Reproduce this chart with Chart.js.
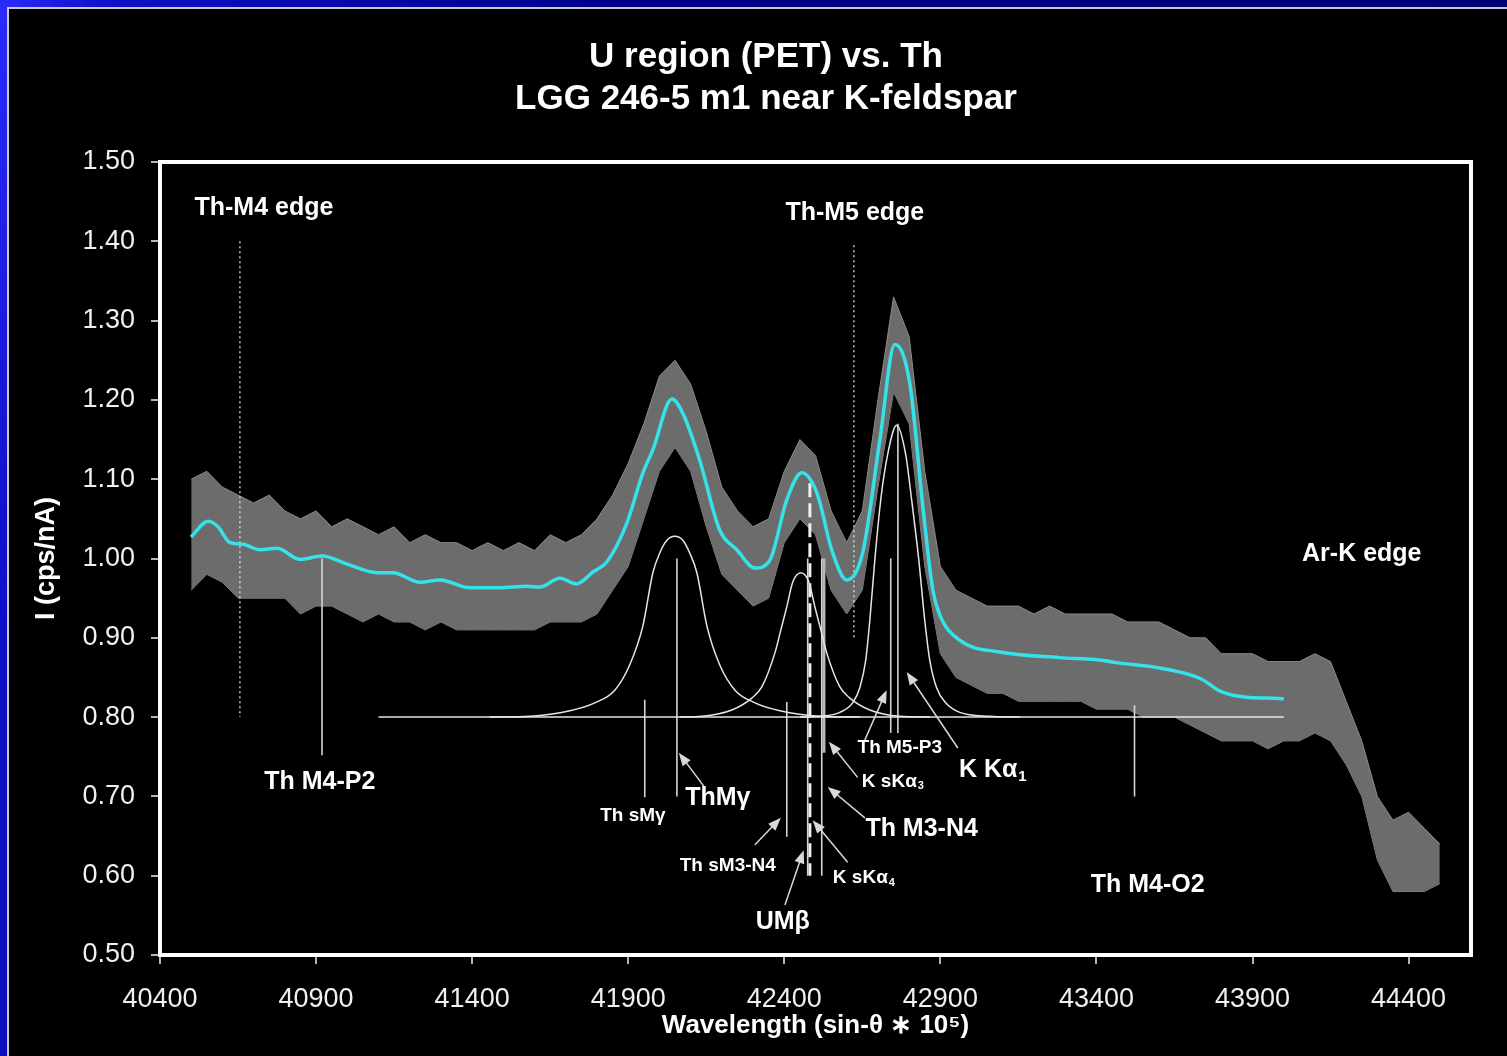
<!DOCTYPE html>
<html>
<head>
<meta charset="utf-8">
<title>U region (PET) vs. Th</title>
<script src="https://cdn.jsdelivr.net/npm/chart.js@4"></script>
<style>
html, body { margin: 0; padding: 0; width: 1507px; height: 1056px; overflow: hidden; }
body { position: relative; background: linear-gradient(100deg, #2b2bff 0%, #1010c8 6%, #00008c 35%, #000070 100%); }
#panel { position: absolute; left: 7px; top: 7px; width: 1530px; height: 1080px; background: #000; border: 2px solid #c8c8d4; }
#chart { position: absolute; left: 0; top: 0; }
</style>
</head>
<body>
<div id="panel"></div>
<canvas id="chart" width="1507" height="1056"></canvas>
<script>
// ---- data ----
const xTicks = [40400, 40900, 41400, 41900, 42400, 42900, 43400, 43900, 44400];
const yTicks = [0.5, 0.6, 0.7, 0.8, 0.9, 1.0, 1.1, 1.2, 1.3, 1.4, 1.5];

// raw spectrum (grey noisy trace), upper and lower edge of the band
const noiseX = [40500, 40550, 40600, 40650, 40700, 40750, 40800, 40850, 40900, 40950,
  41000, 41050, 41100, 41150, 41200, 41250, 41300, 41350, 41400, 41450,
  41500, 41550, 41600, 41650, 41700, 41750, 41800, 41850, 41900, 41950,
  42000, 42050, 42100, 42150, 42200, 42250, 42300, 42350, 42400, 42450,
  42500, 42550, 42600, 42650, 42700, 42750, 42800, 42850, 42900, 42950,
  43000, 43050, 43100, 43150, 43200, 43250, 43300, 43350, 43400, 43450,
  43500, 43550, 43600, 43650, 43700, 43750, 43800, 43850, 43900, 43950,
  44000, 44050, 44100, 44150, 44200, 44250, 44300, 44350, 44400, 44450, 44500];
const noiseHigh = [1.10, 1.11, 1.09, 1.08, 1.07, 1.08, 1.06, 1.05, 1.06, 1.04,
  1.05, 1.04, 1.03, 1.04, 1.02, 1.03, 1.02, 1.02, 1.01, 1.02,
  1.01, 1.02, 1.01, 1.03, 1.02, 1.03, 1.05, 1.08, 1.12, 1.17,
  1.23, 1.25, 1.22, 1.16, 1.09, 1.06, 1.04, 1.05, 1.11, 1.15,
  1.13, 1.06, 1.02, 1.06, 1.20, 1.33, 1.28, 1.11, 0.99, 0.96,
  0.95, 0.94, 0.94, 0.94, 0.93, 0.94, 0.93, 0.93, 0.93, 0.93,
  0.92, 0.92, 0.92, 0.91, 0.90, 0.90, 0.88, 0.88, 0.88, 0.87,
  0.87, 0.87, 0.88, 0.87, 0.82, 0.77, 0.70, 0.67, 0.68, 0.66, 0.64];
const noiseLow = [0.96, 0.98, 0.97, 0.95, 0.95, 0.95, 0.95, 0.93, 0.94, 0.94,
  0.93, 0.92, 0.93, 0.92, 0.92, 0.91, 0.92, 0.91, 0.91, 0.91,
  0.91, 0.91, 0.91, 0.92, 0.92, 0.92, 0.93, 0.96, 0.99, 1.05,
  1.11, 1.14, 1.11, 1.04, 0.98, 0.96, 0.94, 0.95, 1.02, 1.05,
  1.03, 0.96, 0.93, 0.96, 1.09, 1.21, 1.17, 0.99, 0.88, 0.85,
  0.84, 0.83, 0.83, 0.82, 0.82, 0.82, 0.82, 0.82, 0.81, 0.81,
  0.81, 0.80, 0.80, 0.80, 0.79, 0.78, 0.77, 0.77, 0.77, 0.76,
  0.77, 0.77, 0.78, 0.77, 0.74, 0.70, 0.62, 0.58, 0.58, 0.58, 0.59];

// smoothed fit (cyan)
const fitX = [40499, 40554, 40586, 40624, 40666, 40720, 40775, 40848, 40919, 40999,
  41095, 41146, 41233, 41297, 41393, 41489, 41575, 41617, 41681, 41735,
  41787, 41832, 41896, 41947, 41979, 42040, 42075, 42129, 42193, 42248,
  42306, 42354, 42408, 42456, 42504, 42555, 42600, 42651, 42706, 42754,
  42802, 42844, 42876, 42898, 42962, 43090, 43282, 43410, 43458, 43603,
  43731, 43800, 43880, 43950, 44000];
const fitY = [1.027, 1.047, 1.040, 1.020, 1.018, 1.011, 1.013, 0.999, 1.003, 0.993,
  0.982, 0.982, 0.970, 0.973, 0.963, 0.963, 0.965, 0.964, 0.975, 0.968,
  0.983, 0.996, 1.045, 1.108, 1.137, 1.201, 1.183, 1.124, 1.036, 1.011,
  0.988, 0.998, 1.074, 1.108, 1.083, 1.007, 0.973, 1.007, 1.149, 1.270,
  1.221, 1.065, 0.960, 0.929, 0.897, 0.882, 0.875, 0.872, 0.869, 0.862,
  0.849, 0.832, 0.825, 0.824, 0.823];

// fitted component peaks (white)
const peakAX = [41457, 41585, 41713, 41793, 41857, 41905, 41947, 41979, 42001, 42024, 42049,
  42075, 42097, 42120, 42152, 42193, 42242, 42306, 42386, 42514, 42642];
const peakAY = [0.800, 0.801, 0.808, 0.818, 0.834, 0.866, 0.915, 0.982, 1.007, 1.023, 1.028,
  1.023, 1.007, 0.982, 0.915, 0.866, 0.834, 0.818, 0.808, 0.801, 0.800];
const peakBX = [42065, 42136, 42232, 42296, 42328, 42370, 42389, 42408, 42427, 42453,
  42479, 42498, 42517, 42536, 42578, 42610, 42674, 42770, 42866];
const peakBY = [0.800, 0.801, 0.809, 0.824, 0.838, 0.881, 0.910, 0.939, 0.970, 0.982,
  0.970, 0.939, 0.910, 0.881, 0.838, 0.824, 0.809, 0.801, 0.800];
const peakCX = [42450, 42514, 42578, 42619, 42642, 42661, 42674, 42690, 42709, 42731, 42760,
  42789, 42808, 42831, 42850, 42866, 42888, 42917, 42962, 43058, 43154];
const peakCY = [0.800, 0.801, 0.806, 0.818, 0.837, 0.872, 0.922, 0.998, 1.074, 1.131, 1.168,
  1.131, 1.074, 0.998, 0.922, 0.872, 0.837, 0.818, 0.806, 0.801, 0.800];
const baseX = [41100, 44000];
const baseY = [0.80, 0.80];

// line positions: absorption edges (dotted) and emission lines (solid)
const edgeX = [40656, 42623];
const edgeTop = [1.40, 1.395];
const edgeBottom = [0.80, 0.897];
const lineX = [40919, 41953, 42056, 42408, 42475, 42520, 42741, 42764, 43522];
const lineTop = [1.00, 0.822, 1.00, 0.819, 1.00, 1.00, 1.00, 1.17, 0.815];
const lineBottom = [0.752, 0.699, 0.70, 0.649, 0.60, 0.60, 0.78, 0.78, 0.70];
const ksKa3X = 42527, ksKa3Top = 1.00, ksKa3Bottom = 0.755;
const umbX = 42482, umbTop = 1.095, umbBottom = 0.60;

// ---- helpers ----
const FONT = '"Liberation Sans", Arial, sans-serif';
function pts(xs, ys) { return xs.map((x, i) => ({ x: x, y: ys[i] })); }

const datasets = [];
datasets.push({ data: pts(fitX, fitY), borderColor: '#36e2ea', borderWidth: 3.5, tension: 0.4, cubicInterpolationMode: 'monotone', order: 0 });
[[peakAX, peakAY], [peakBX, peakBY], [peakCX, peakCY], [baseX, baseY]].forEach(p => {
  datasets.push({ data: pts(p[0], p[1]), borderColor: '#e6e6e6', borderWidth: 1.5, tension: 0.4, cubicInterpolationMode: 'monotone', order: 1 });
});
edgeX.forEach((x, i) => {
  datasets.push({ data: [{ x: x, y: edgeTop[i] }, { x: x, y: edgeBottom[i] }], borderColor: '#e0e0e0', borderWidth: 1.3, borderDash: [2, 3], order: 2 });
});
lineX.forEach((x, i) => {
  datasets.push({ data: [{ x: x, y: lineTop[i] }, { x: x, y: lineBottom[i] }], borderColor: '#d4d4d4', borderWidth: 1.6, order: 2 });
});
datasets.push({ data: [{ x: ksKa3X, y: ksKa3Top }, { x: ksKa3X, y: ksKa3Bottom }], borderColor: '#b8b8b8', borderWidth: 3, order: 2 });
datasets.push({ data: [{ x: umbX, y: umbTop }, { x: umbX, y: umbBottom }], borderColor: '#f0f0f0', borderWidth: 3, borderDash: [14, 6], order: 2 });
// grey band of the raw counts
datasets.push({ data: pts(noiseX, noiseHigh), borderColor: '#8a8a8a', borderWidth: 1, backgroundColor: '#6c6c6c', fill: '+1', order: 5 });
datasets.push({ data: pts(noiseX, noiseLow), borderColor: '#8a8a8a', borderWidth: 1, fill: false, order: 5 });

// labels and arrows in data units
const notes = [
  { t: 'Th-M4 edge', x: 40733, y: 1.442, s: 25 },
  { t: 'Th-M5 edge', x: 42626, y: 1.436, s: 25 },
  { t: 'Th M4-P2', x: 40912, y: 0.718, s: 25 },
  { t: 'Ar-K edge', x: 44250, y: 1.006, s: 25 },
  { t: 'Th M4-O2', x: 43564, y: 0.588, s: 25 },
  { t: 'ThMγ', x: 42187, y: 0.698, s: 25 },
  { t: 'UMβ', x: 42395, y: 0.542, s: 25 },
  { t: 'Th M3-N4', x: 42840, y: 0.659, s: 25 },
  { t: 'K Kα', sub: '1', x: 43068, y: 0.733, s: 25 },
  { t: 'Th sMγ', x: 41915, y: 0.675, s: 19 },
  { t: 'Th sM3-N4', x: 42219, y: 0.612, s: 19 },
  { t: 'K sKα', sub: '4', x: 42655, y: 0.597, s: 19 },
  { t: 'K sKα', sub: '3', x: 42748, y: 0.719, s: 19 },
  { t: 'Th M5-P3', x: 42770, y: 0.761, s: 19 }
];
const arrows = [
  [42142, 0.713, 42062, 0.755],
  [42306, 0.639, 42389, 0.673],
  [42402, 0.563, 42462, 0.632],
  [42603, 0.617, 42491, 0.670],
  [42658, 0.673, 42539, 0.712],
  [42635, 0.724, 42543, 0.769],
  [42658, 0.771, 42728, 0.834],
  [42956, 0.761, 42792, 0.857]
];

const decor = {
  id: 'decor',
  afterDatasetsDraw(chart) {
    const ctx = chart.ctx, xs = chart.scales.x, ys = chart.scales.y;
    ctx.save();
    // arrows
    ctx.strokeStyle = '#d8d8d8';
    ctx.fillStyle = '#d8d8d8';
    ctx.lineWidth = 1.5;
    arrows.forEach(a => {
      const x1 = xs.getPixelForValue(a[0]), y1 = ys.getPixelForValue(a[1]);
      const x2 = xs.getPixelForValue(a[2]), y2 = ys.getPixelForValue(a[3]);
      const ang = Math.atan2(y2 - y1, x2 - x1), L = 13, W = 5;
      ctx.beginPath();
      ctx.moveTo(x1, y1);
      ctx.lineTo(x2 - Math.cos(ang) * L * 0.8, y2 - Math.sin(ang) * L * 0.8);
      ctx.stroke();
      ctx.beginPath();
      ctx.moveTo(x2, y2);
      ctx.lineTo(x2 - Math.cos(ang) * L - Math.sin(ang) * W, y2 - Math.sin(ang) * L + Math.cos(ang) * W);
      ctx.lineTo(x2 - Math.cos(ang) * L + Math.sin(ang) * W, y2 - Math.sin(ang) * L - Math.cos(ang) * W);
      ctx.closePath();
      ctx.fill();
    });
    // labels
    ctx.fillStyle = '#ffffff';
    ctx.textBaseline = 'middle';
    notes.forEach(n => {
      const px = xs.getPixelForValue(n.x), py = ys.getPixelForValue(n.y);
      ctx.font = 'bold ' + n.s + 'px ' + FONT;
      const w1 = ctx.measureText(n.t).width;
      let w2 = 0;
      const subFont = 'bold ' + Math.round(n.s * 0.6) + 'px ' + FONT;
      if (n.sub) { ctx.font = subFont; w2 = ctx.measureText(n.sub).width + 1; }
      const left = px - (w1 + w2) / 2;
      ctx.font = 'bold ' + n.s + 'px ' + FONT;
      ctx.textAlign = 'left';
      ctx.fillText(n.t, left, py);
      if (n.sub) { ctx.font = subFont; ctx.fillText(n.sub, left + w1 + 1, py + n.s * 0.25); }
    });
    ctx.restore();
  },
  afterDraw(chart) {
    const ctx = chart.ctx, a = chart.chartArea;
    ctx.save();
    ctx.strokeStyle = '#ffffff';
    ctx.lineWidth = 4;
    ctx.strokeRect(a.left, a.top, a.right - a.left, a.bottom - a.top);
    ctx.fillStyle = '#ffffff';
    ctx.textAlign = 'center';
    ctx.textBaseline = 'middle';
    ctx.font = 'bold 35px ' + FONT;
    ctx.fillText('U region (PET) vs. Th', 766, 57);
    ctx.fillText('LGG 246-5 m1 near K-feldspar', 766, 99);
    ctx.restore();
  }
};

new Chart(document.getElementById('chart'), {
  type: 'scatter',
  data: { datasets: datasets },
  options: {
    responsive: false,
    animation: false,
    devicePixelRatio: 1,
    showLine: true,
    elements: { point: { radius: 0, hoverRadius: 0 } },
    layout: { padding: { top: 162, right: 36, left: 0, bottom: 0 } },
    plugins: { legend: { display: false }, tooltip: { enabled: false }, title: { display: false } },
    scales: {
      x: {
        type: 'linear', min: 40400, max: 44600,
        afterBuildTicks: s => { s.ticks = xTicks.map(v => ({ value: v })); },
        afterFit: s => { s.height = 101; },
        ticks: { color: '#f0f0f0', font: { family: FONT, size: 27 }, padding: 19, autoSkip: false, maxRotation: 0, callback: v => String(v) },
        grid: { drawOnChartArea: false, drawTicks: true, tickLength: 9, color: '#b4b4b4', lineWidth: 2 },
        border: { display: false },
        title: { display: true, text: 'Wavelength (sin-θ ∗ 10⁵)', color: '#ffffff', font: { family: FONT, size: 26, weight: 'bold' }, padding: { top: 0, bottom: 15 } }
      },
      y: {
        type: 'linear', min: 0.5, max: 1.5,
        afterBuildTicks: s => { s.ticks = yTicks.map(v => ({ value: v })); },
        afterFit: s => { s.width = 160; },
        ticks: { color: '#f0f0f0', font: { family: FONT, size: 27 }, padding: 16, callback: v => Number(v).toFixed(2) },
        grid: { drawOnChartArea: false, drawTicks: true, tickLength: 9, color: '#b4b4b4', lineWidth: 2 },
        border: { display: false },
        title: { display: true, text: 'I (cps/nA)', color: '#ffffff', font: { family: FONT, size: 27, weight: 'bold' }, padding: { top: 30, bottom: 0 } }
      }
    }
  },
  plugins: [decor]
});
</script>
</body>
</html>
